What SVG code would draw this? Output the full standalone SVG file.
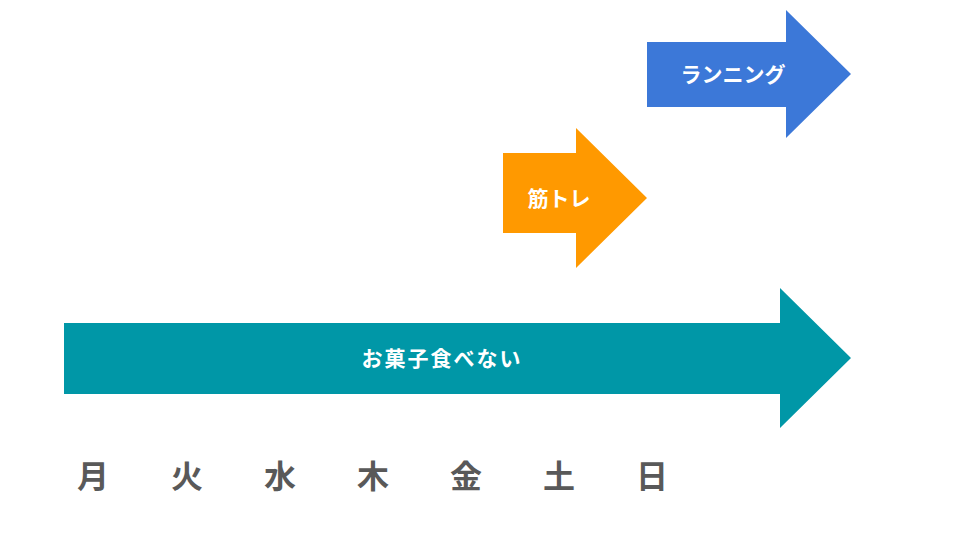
<svg xmlns="http://www.w3.org/2000/svg" width="960" height="540" viewBox="0 0 960 540">
<style>
.lbl{font-family:"Noto Sans CJK JP",sans-serif;font-weight:bold;font-size:21px;fill:#ffffff;text-anchor:middle;dominant-baseline:central}
.day{font-family:"Noto Sans CJK JP",sans-serif;font-weight:bold;font-size:32px;fill:#595959;text-anchor:middle;dominant-baseline:central}
</style>
<rect width="960" height="540" fill="#ffffff"/>
<g id="running">
<polygon points="647,42 786,42 786,10 851,74 786,138 786,107 647,107" fill="#3c78d8"/>
<text class="lbl" x="733" y="73">ランニング</text>
</g>
<g id="kintore">
<polygon points="503,153 576,153 576,128 647,198 576,268 576,233 503,233" fill="#ff9900"/>
<text class="lbl" x="559" y="197">筋トレ</text>
</g>
<g id="okashi">
<polygon points="64,323 780,323 780,288 851,358 780,428 780,394 64,394" fill="#0097a7"/>
<text class="lbl" x="442" y="357" letter-spacing="2">お菓子食べない</text>
</g>
<g id="days">
<text class="day" x="93" y="474">月</text>
<text class="day" x="187" y="474">火</text>
<text class="day" x="280" y="474">水</text>
<text class="day" x="373" y="474">木</text>
<text class="day" x="466" y="474">金</text>
<text class="day" x="559" y="474">土</text>
<text class="day" x="652" y="474">日</text>
</g>
<g id="connectors"></g>
</svg>
